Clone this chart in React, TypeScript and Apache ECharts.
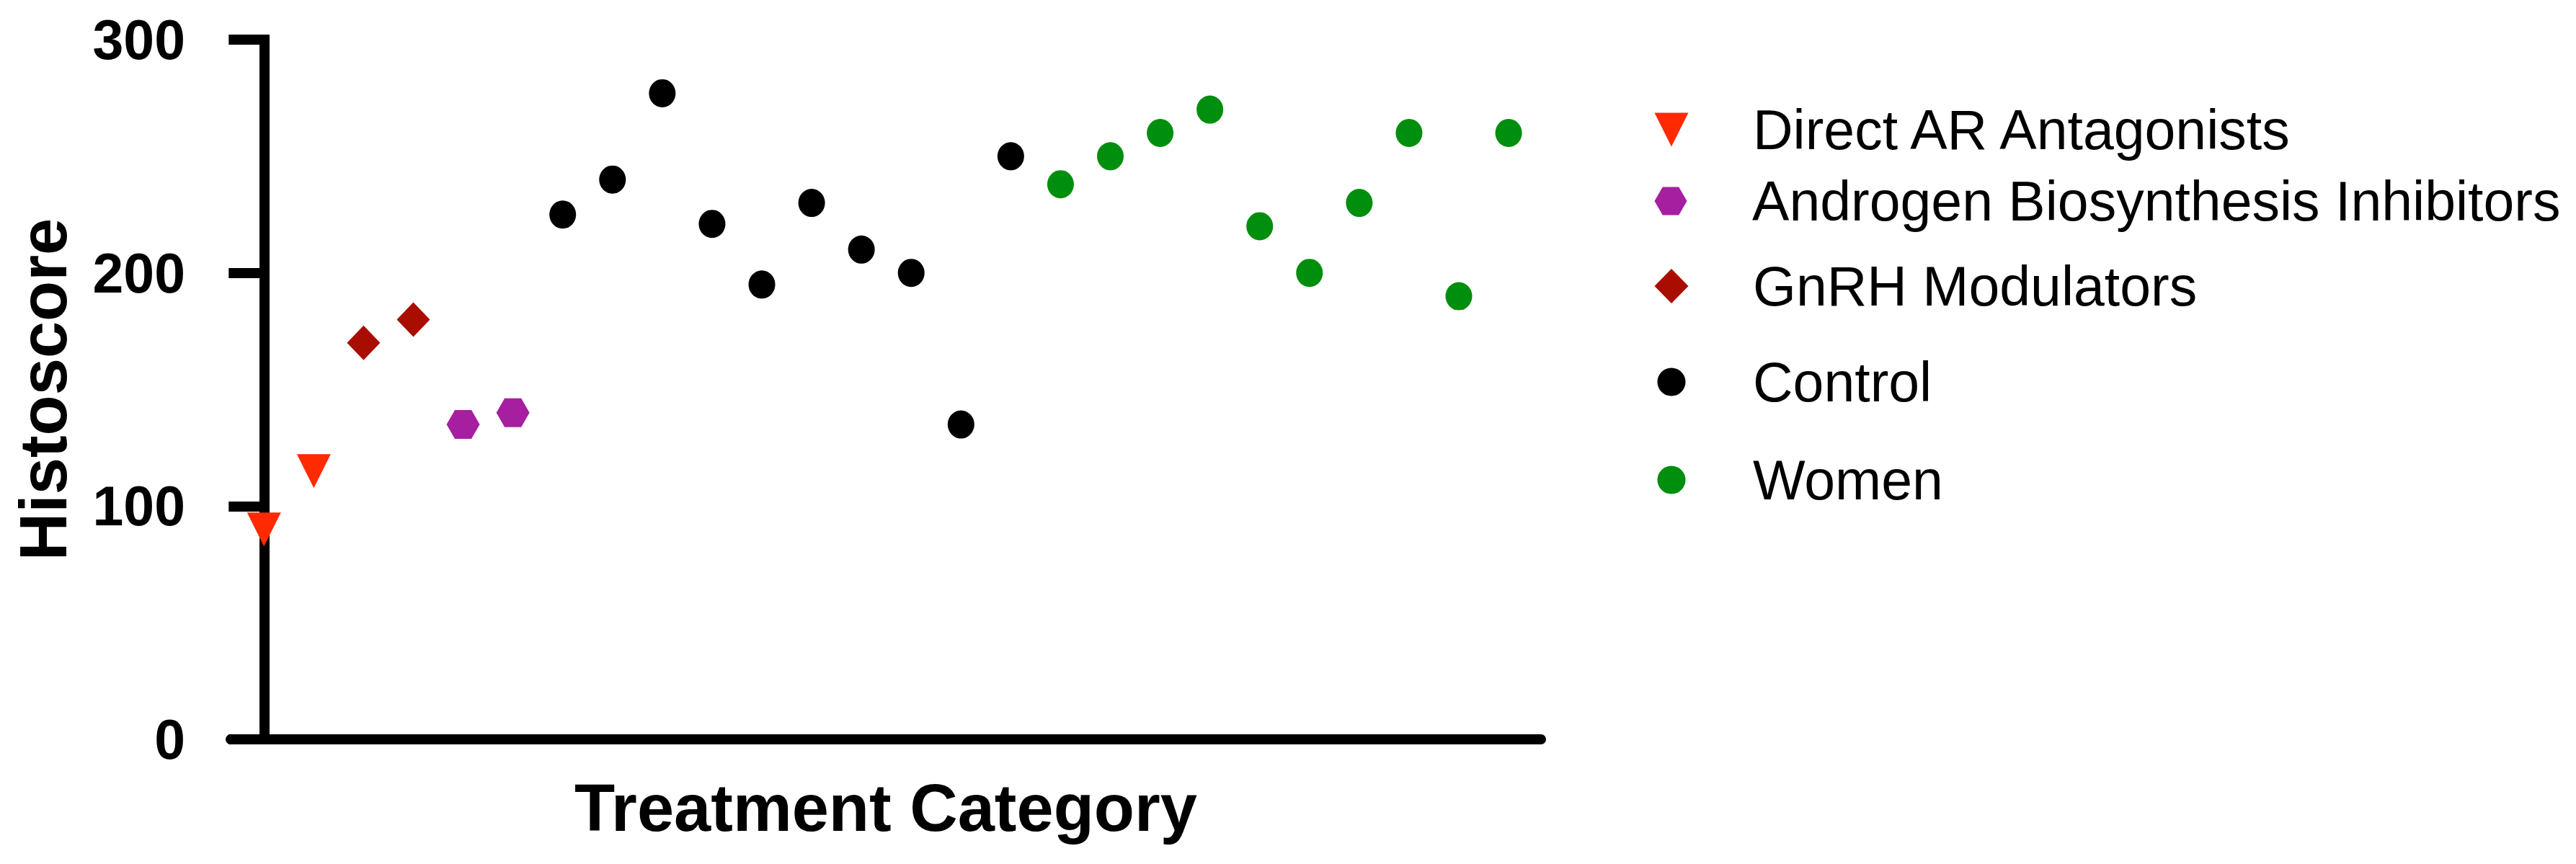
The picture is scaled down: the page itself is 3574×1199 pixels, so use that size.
import React, { useEffect, useRef } from "react";
import * as echarts from "echarts";

// ---- Data ----
const seriesNames = [
  "Direct AR Antagonists",
  "Androgen Biosynthesis Inhibitors",
  "GnRH Modulators",
  "Control",
  "Women",
];
const directAR = [90, 115];
const androgen = [135, 140];
const gnrh = [170, 180];
const control = [225, 240, 277, 221, 195, 230, 210, 200, 135, 250];
const women = [238, 250, 260, 270, 220, 200, 230, 260, 190, 260];
const yTicks = [0, 100, 200, 300];

const seriesValues = [directAR, androgen, gnrh, control, women];
// order in which the groups appear along the x axis
const plotOrder = [0, 2, 1, 3, 4];
const colors = ["#FF2A00", "#A51FA0", "#A80D00", "#000000", "#008E0E"];

const TRI_DOWN = "path://M0,0 L100,0 L50,100 Z";
const HEX = "path://M0,50 L25,6.7 L75,6.7 L100,50 L75,93.3 L25,93.3 Z";
const symbols = [TRI_DOWN, HEX, "diamond", "circle", "circle"];
const symbolSizes: any[] = [[47, 47], [46, 40], [46, 48], [37, 39], [37, 39]];
const legendIcon: number[][] = [[47, 48], [47, 39], [47, 48], [39, 40], [39, 40]];
const legendCenterY = [180, 279, 397, 530, 666];

const FONT = "'Liberation Sans', Arial, Helvetica, sans-serif";

export default function App() {
  const ref = useRef<HTMLDivElement>(null);
  useEffect(() => {
    if (!ref.current) return;
    const chart = echarts.init(ref.current, null, { renderer: "svg" });

    const startIdx: number[] = [];
    let start = 0;
    plotOrder.forEach((si) => {
      startIdx[si] = start;
      start += seriesValues[si].length;
    });

    const series = seriesValues.map((vals, si) => ({
      name: seriesNames[si],
      type: "scatter",
      data: vals.map((v, k) => [startIdx[si] + k, v]),
      symbol: symbols[si],
      symbolSize: symbolSizes[si],
      itemStyle: { color: colors[si], opacity: 1 },
      emphasis: { disabled: true },
      z: 3,
    }));

    const legendCenterX = 2319;
    const textStartX = 2432;
    const legends = seriesNames.map((name, i) => {
      const [w, h] = legendIcon[i];
      const left = legendCenterX - w / 2;
      const pad = textStartX - (left + w + 5);
      return {
        data: [{ name, icon: symbols[i] }],
        left,
        top: legendCenterY[i] - 38.5,
        padding: 0,
        itemGap: 0,
        itemWidth: w,
        itemHeight: h,
        selectedMode: false,
        textStyle: {
          fontSize: 77,
          fontFamily: FONT,
          color: "#000",
          padding: [0, 0, 0, pad],
        },
      };
    });

    chart.setOption({
      animation: false,
      backgroundColor: "#ffffff",
      grid: { left: 320, right: 1436, top: 55, bottom: 173, containLabel: false },
      legend: legends,
      xAxis: {
        type: "value",
        min: -0.67,
        max: 25.65,
        name: "Treatment Category",
        nameLocation: "middle",
        nameGap: 49,
        nameTextStyle: { fontSize: 92, fontWeight: "bold", fontFamily: FONT, color: "#000" },
        axisLine: { show: true, onZero: false, lineStyle: { color: "#000", width: 14 } },
        axisTick: { show: false },
        axisLabel: { show: false },
        splitLine: { show: false },
      },
      yAxis: {
        type: "value",
        min: yTicks[0],
        max: yTicks[yTicks.length - 1],
        interval: 100,
        name: "Histoscore",
        nameLocation: "middle",
        nameGap: 214,
        nameTextStyle: { fontSize: 92, fontWeight: "bold", fontFamily: FONT, color: "#000" },
        axisLine: { show: true, lineStyle: { color: "#000", width: 14, cap: "square" } },
        axisTick: { show: true, length: 49, lineStyle: { color: "#000", width: 14 } },
        axisLabel: {
          margin: 63,
          fontSize: 77,
          fontWeight: "bold",
          fontFamily: FONT,
          color: "#000",
        },
        splitLine: { show: false },
      },
      series,
    });
    return () => chart.dispose();
  }, []);
  return (
    <div
      ref={ref}
      style={{ position: "absolute", left: 0, top: 0, width: 3574, height: 1199, background: "#fff" }}
    />
  );
}
